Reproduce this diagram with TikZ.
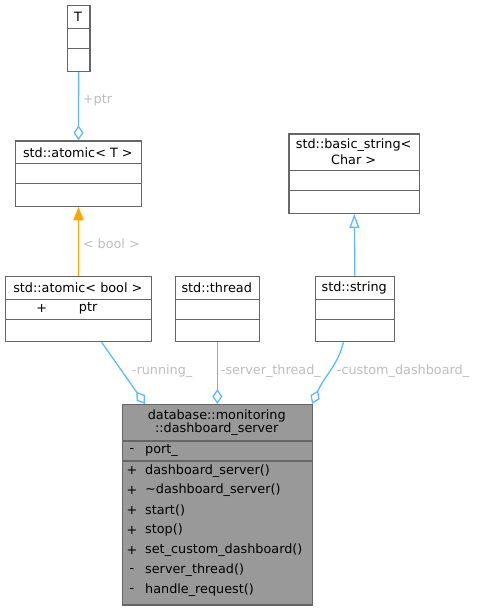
\documentclass[tikz,border=0pt]{standalone}
\usepackage{fontspec}
\setmainfont{DejaVu Sans}
\usetikzlibrary{arrows.meta}
\definecolor{bordc}{HTML}{666666}
\definecolor{edgec}{HTML}{63B8FF}
\definecolor{orangec}{HTML}{FFA500}
\definecolor{labc}{HTML}{BEBEBE}
\definecolor{mainfill}{HTML}{999999}
\tikzset{
  classbox/.style={draw=bordc, fill=white, line width=1.3pt, rectangle, inner sep=0pt, anchor=north west},
  mainbox/.style={classbox, fill=mainfill},
  sepline/.style={draw=bordc, line width=1.3pt},
  txt/.style={inner sep=0pt, font=\fontsize{12.8}{13.3}\selectfont, text=black},
  elab/.style={inner sep=0pt, font=\fontsize{12.8}{13.3}\selectfont, text=labc, anchor=west},
  agg/.style={draw=edgec, line width=1.3pt, -{Diamond[open, length=15pt, width=10pt, line width=1.3pt]}},
  inh/.style={draw=edgec, line width=1.3pt, -{Triangle[open, length=14pt, width=10pt, line width=1.3pt]}},
  tmpl/.style={draw=orangec, fill=orangec, line width=1.3pt, -{Triangle[length=13.5pt, width=10.5pt]}},
}
\begin{document}
\begin{tikzpicture}[x=1pt, y=-1pt]
\useasboundingbox[fill=white] (0,0) rectangle (478,609);

% T
\node[classbox, minimum width=22.6pt, minimum height=66pt] (T) at (66.7,4.7) {};
\draw[sepline] (66.7,28.7) -- (89.3,28.7);
\draw[sepline] (66.7,48.7) -- (89.3,48.7);
\node[txt] (Tt) at (78,16.7) {T};

% std::atomic< T >
\node[classbox, minimum width=125.7pt, minimum height=65.4pt] (atomicT) at (15,140.3) {};
\draw[sepline] (15,163.7) -- (140.7,163.7);
\draw[sepline] (15,183.7) -- (140.7,183.7);
\node[txt] (atomicTt) at (77.85,152.7) {std::atomic< T >};

% std::basic_string< Char >
\node[classbox, minimum width=130.7pt, minimum height=79.4pt] (bstr) at (288.3,133.3) {};
\draw[sepline] (288.3,170.7) -- (419,170.7);
\draw[sepline] (288.3,190.7) -- (419,190.7);
\node[txt] (bstrt1) at (353.65,145) {std::basic\_string<};
\node[txt] (bstrt2) at (353.65,159.3) {Char >};

% std::atomic< bool >
\node[classbox, minimum width=145.7pt, minimum height=65.3pt] (abool) at (5,275.7) {};
\draw[sepline] (5,299.3) -- (150.7,299.3);
\draw[sepline] (5,319.3) -- (150.7,319.3);
\node[txt] (aboolt) at (77.85,287.7) {std::atomic< bool >};
\node[txt] (aboolp) at (41.7,308.7) {+};
\node[txt, anchor=west] (aboolm) at (78.7,308.7) {ptr};

% std::thread
\node[classbox, minimum width=84pt, minimum height=65.3pt] (thr) at (174.7,275.7) {};
\draw[sepline] (174.7,299.3) -- (258.7,299.3);
\draw[sepline] (174.7,319.3) -- (258.7,319.3);
\node[txt] (thrt) at (216.7,287.7) {std::thread};

% std::string
\node[classbox, minimum width=79pt, minimum height=65.3pt] (str) at (314.7,275.7) {};
\draw[sepline] (314.7,299.3) -- (393.7,299.3);
\draw[sepline] (314.7,319.3) -- (393.7,319.3);
\node[txt] (strt) at (354.2,287.7) {std::string};

% main class
\node[mainbox, minimum width=190pt, minimum height=200.3pt] (main) at (121.7,404) {};
\draw[sepline] (121.7,441) -- (311.7,441);
\draw[sepline] (121.7,461) -- (311.7,461);
\node[txt] (maint1) at (216.7,415.7) {database::monitoring};
\node[txt] (maint2) at (216.7,429) {::dashboard\_server};
\node[txt] (v1) at (132,450.7) {-};
\node[txt, anchor=west] (m1) at (145,450.7) {port\_};
\node[txt] (v2) at (132,470.7) {+};
\node[txt, anchor=west] (m2) at (145,470.7) {dashboard\_server()};
\node[txt] (v3) at (132,490.6) {+};
\node[txt, anchor=west] (m3) at (145,490.6) {\char"007E dashboard\_server()};
\node[txt] (v4) at (132,510.5) {+};
\node[txt, anchor=west] (m4) at (145,510.5) {start()};
\node[txt] (v5) at (132,530.4) {+};
\node[txt, anchor=west] (m5) at (145,530.4) {stop()};
\node[txt] (v6) at (132,550.3) {+};
\node[txt, anchor=west] (m6) at (145,550.3) {set\_custom\_dashboard()};
\node[txt] (v7) at (132,570.2) {-};
\node[txt, anchor=west] (m7) at (145,570.2) {server\_thread()};
\node[txt] (v8) at (132,590.1) {-};
\node[txt, anchor=west] (m8) at (145,590.1) {handle\_request()};

% connectors
\draw[agg] (T.south) -- (atomicT.north);
\node[elab] (lptr) at (82.7,100) {+ptr};

\draw[tmpl] (abool.north) -- (atomicT.south);
\node[elab] (lbool) at (82.7,243.3) {< bool >};

\draw[inh] (str.north) -- (bstr.south);

\draw[agg] ([xshift=23.15pt]abool.south) -- ([xshift=23.3pt]main.north west);
\node[elab] (lrun) at (131.7,371) {-running\_};

\draw[agg] (thr.south) -- (main.north);
\node[elab] (lthr) at (220.7,371) {-server\_thread\_};

\draw[agg] ([xshift=-11.5pt]str.south) .. controls (338,365) and (325,375) .. ([xshift=-1pt]main.north east);
\node[elab] (lcus) at (336.7,371) {-custom\_dashboard\_};
\end{tikzpicture}
\end{document}
